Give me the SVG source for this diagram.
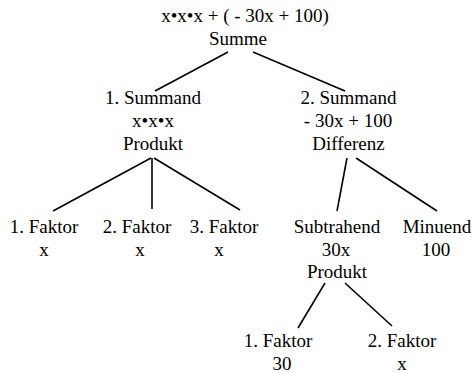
<svg xmlns="http://www.w3.org/2000/svg" width="473" height="373" viewBox="0 0 473 373">
<style>
.t{font-family:'Liberation Serif','Times New Roman','DejaVu Serif',serif;font-size:19px;fill:#000;text-anchor:middle}
line{stroke:#000;stroke-width:1.6}
</style>
<rect width="473" height="373" fill="#fff"/>
<g id="connectors">
<line x1="228" y1="52" x2="155" y2="91"/>
<line x1="253" y1="52" x2="345" y2="91"/>
<line x1="151" y1="158" x2="53" y2="211"/>
<line x1="152" y1="158" x2="152" y2="209"/>
<line x1="154" y1="158" x2="240" y2="210"/>
<line x1="347" y1="158" x2="337" y2="211"/>
<line x1="356" y1="158" x2="437" y2="211"/>
<line x1="325" y1="283" x2="298" y2="328"/>
<line x1="345" y1="283" x2="392" y2="326"/>
</g>
<g class="t">
<g id="root"><text x="245" y="22">x•x•x + ( - 30x + 100)</text><text x="238" y="45">Summe</text></g>
<g id="summand1"><text x="153" y="104">1. Summand</text><text x="153" y="127">x•x•x</text><text x="153" y="150">Produkt</text></g>
<g id="summand2"><text x="348.5" y="104">2. Summand</text><text x="348" y="127">- 30x + 100</text><text x="348.5" y="150">Differenz</text></g>
<g id="faktor1"><text x="44" y="233">1. Faktor</text><text x="44" y="256">x</text></g>
<g id="faktor2"><text x="137" y="233">2. Faktor</text><text x="140" y="256">x</text></g>
<g id="faktor3"><text x="224" y="233">3. Faktor</text><text x="219" y="256">x</text></g>
<g id="subtrahend"><text x="337" y="233">Subtrahend</text><text x="336" y="256">30x</text><text x="337" y="278">Produkt</text></g>
<g id="minuend"><text x="437" y="233">Minuend</text><text x="436" y="256">100</text></g>
<g id="faktor4"><text x="278" y="347">1. Faktor</text><text x="282" y="370">30</text></g>
<g id="faktor5"><text x="402" y="347">2. Faktor</text><text x="402" y="370">x</text></g>
</g>
</svg>
